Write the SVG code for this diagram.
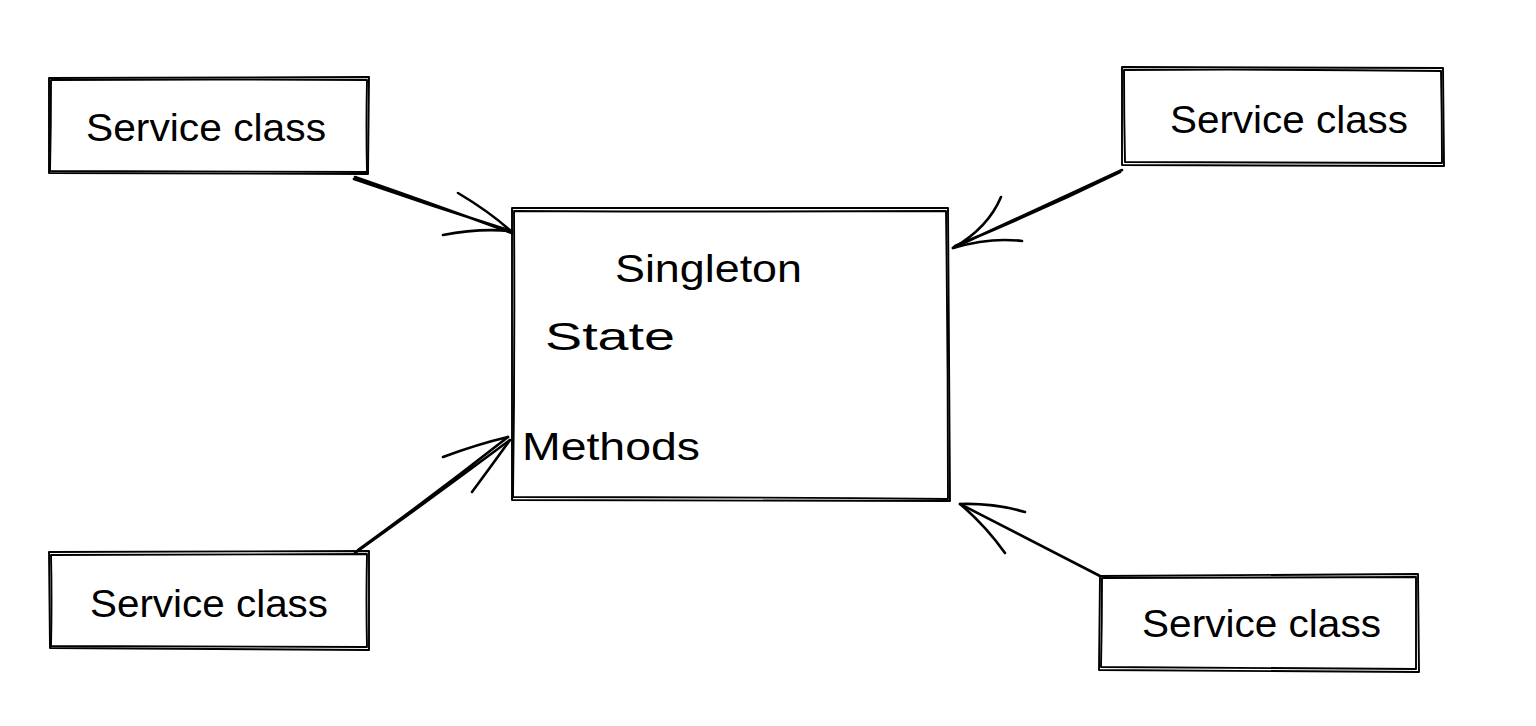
<svg xmlns="http://www.w3.org/2000/svg" width="1536" height="726" viewBox="0 0 1536 726">
<style>
.sk{fill:none;stroke:#000;stroke-width:1.9;stroke-linecap:round;stroke-linejoin:round}
.ar{fill:none;stroke:#000;stroke-width:2.6;stroke-linecap:round;stroke-linejoin:round}
.t{font-family:"Liberation Sans","DejaVu Sans",sans-serif;font-size:38px;fill:#000}
</style>
<rect width="1536" height="726" fill="#fff"/>
<g id="connectors">
  <path class="ar" d="M355,177 Q430,203 512,233 M354,179 Q432,206 511,231"/>
  <path class="ar" d="M458,193 Q490,212 512,232 M443,235 Q478,228 512,231"/>
  <path class="ar" d="M1122,170 Q1035,210 953,248 M1120,172 Q1038,212 955,246"/>
  <path class="ar" d="M1001,197 Q988,228 953,248 M1022,241 Q990,237 953,248"/>
  <path class="ar" d="M355,553 Q432,498 510,440 M358,550 Q434,495 508,437"/>
  <path class="ar" d="M443,457 Q478,444 508,437 M472,492 Q492,465 510,440"/>
  <path class="ar" d="M1100,576 Q1030,540 960,504"/>
  <path class="ar" d="M1025,512 Q995,503 960,504 M1005,553 Q985,525 960,504"/>
</g>
<g id="node-singleton">
  <path class="sk" d="M512,208 L948,208 L950,501 L512,500 Z"/>
  <path class="sk" d="M514,211 Q730,212 946,211 Q948,355 948,499 Q730,497 513,497 Q515,355 514,211"/>
  <text class="t" x="615" y="282" textLength="187" lengthAdjust="spacingAndGlyphs">Singleton</text>
  <text class="t" x="545" y="350" textLength="130" lengthAdjust="spacingAndGlyphs">State</text>
  <text class="t" x="522" y="460" font-size="42" textLength="178" lengthAdjust="spacingAndGlyphs">Methods</text>
</g>
<g id="node-service-tl">
  <path class="sk" d="M49,78 L369,77 L368,174 L49,173 Z"/>
  <path class="sk" d="M51,80 Q210,79 367,80 Q366,126 367,172 Q210,171 50,171 Q51,126 51,80"/>
  <text class="t" x="86" y="141" textLength="240" lengthAdjust="spacingAndGlyphs">Service class</text>
</g>
<g id="node-service-tr">
  <path class="sk" d="M1122,67 L1443,68 L1444,166 L1122,165 Z"/>
  <path class="sk" d="M1124,70 Q1283,69 1441,71 Q1442,117 1442,163 Q1283,162 1125,162 Q1124,116 1124,70"/>
  <text class="t" x="1170" y="133" textLength="238" lengthAdjust="spacingAndGlyphs">Service class</text>
</g>
<g id="node-service-bl">
  <path class="sk" d="M49,552 L369,551 L369,650 L50,648 Z"/>
  <path class="sk" d="M51,555 Q210,554 367,554 Q366,600 367,647 Q210,646 51,646 Q52,600 51,555"/>
  <text class="t" x="90" y="617" textLength="238" lengthAdjust="spacingAndGlyphs">Service class</text>
</g>
<g id="node-service-br">
  <path class="sk" d="M1100,576 L1418,574 L1419,672 L1099,670 Z"/>
  <path class="sk" d="M1102,578 Q1260,577 1416,577 Q1416,623 1416,669 Q1260,668 1101,667 Q1102,622 1102,578"/>
  <text class="t" x="1142" y="637" textLength="239" lengthAdjust="spacingAndGlyphs">Service class</text>
</g>
</svg>
